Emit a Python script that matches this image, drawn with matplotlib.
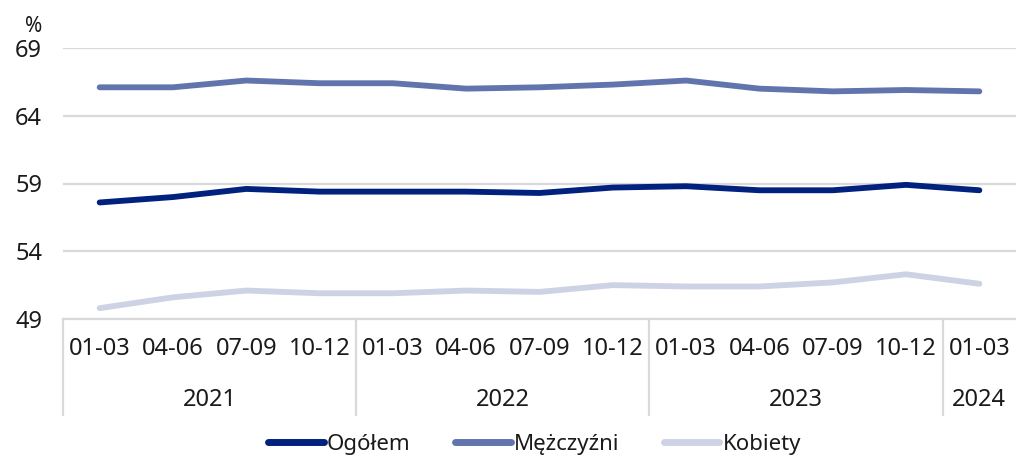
import numpy as np
import matplotlib.pyplot as plt
import matplotlib.transforms as mtransforms

plt.rcParams['font.family'] = ['Noto Sans', 'DejaVu Sans']

# Data
quarters = ["01-03", "04-06", "07-09", "10-12"] * 3 + ["01-03"]
years = ["2021", "2022", "2023", "2024"]
year_counts = [4, 4, 4, 1]

ogolem = [57.6, 58.0, 58.6, 58.4, 58.4, 58.4, 58.3, 58.7, 58.8, 58.5, 58.5, 58.9, 58.5]
mezczyzni = [66.1, 66.1, 66.6, 66.4, 66.4, 66.0, 66.1, 66.3, 66.6, 66.0, 65.8, 65.9, 65.8]
kobiety = [49.8, 50.6, 51.1, 50.9, 50.9, 51.1, 51.0, 51.5, 51.4, 51.4, 51.7, 52.3, 51.6]

series = [
    ("Ogółem", ogolem, "#00217d"),
    ("Mężczyźni", mezczyzni, "#6274ad"),
    ("Kobiety", kobiety, "#cdd2e5"),
]

yticks = [49, 54, 59, 64, 69]

fig = plt.figure(figsize=(10.16, 4.62), dpi=100)
ax = fig.add_axes([63 / 1016, 143 / 462, 1 - 63 / 1016, 271 / 462])

x = np.arange(len(quarters))
for name, vals, color in series:
    ax.plot(x, vals, color=color, linewidth=4.2, solid_capstyle="round",
            label=name, zorder=3)

ax.set_xlim(-0.5, len(quarters) - 0.5)
ax.set_ylim(49, 69)
ax.set_yticks(yticks)
ax.set_yticklabels([str(t) for t in yticks], fontsize=17, color="#1a1a1a")
ax.tick_params(axis="y", length=0, pad=15)
ax.set_xticks([])
ax.grid(axis="y", color="#d9d9d9", linewidth=1.6, zorder=0)
for side in ["top", "right", "left"]:
    ax.spines[side].set_visible(False)
ax.spines["bottom"].set_color("#d9d9d9")
ax.spines["bottom"].set_linewidth(1.6)

ax.text(-0.031, 1.078, "%", transform=ax.transAxes, ha="center", va="center",
        fontsize=15, color="#1a1a1a")

# Two-level category axis
trans = mtransforms.blended_transform_factory(ax.transData, ax.transAxes)
for i, q in enumerate(quarters):
    ax.text(i, -0.112, q, transform=trans, ha="center", va="center",
            fontsize=17, color="#1a1a1a")

start = 0
bounds = [start]
for yr, n in zip(years, year_counts):
    ax.text(start + (n - 1) / 2, -0.3, yr, transform=trans, ha="center",
            va="center", fontsize=17, color="#1a1a1a")
    start += n
    bounds.append(start)
for b in bounds[:-1]:
    ax.plot([b - 0.5, b - 0.5], [0, -0.355], transform=trans, color="#d9d9d9",
            linewidth=1.6, clip_on=False)

leg = ax.legend(loc="upper center", bbox_to_anchor=(0.495, -0.35), ncol=3,
                frameon=False, fontsize=16, handlelength=2.5, handletextpad=0.15,
                columnspacing=2.0, labelcolor="#1a1a1a")
for h in leg.get_lines():
    h.set_linewidth(5)

fig.savefig("out.png", dpi=100)
